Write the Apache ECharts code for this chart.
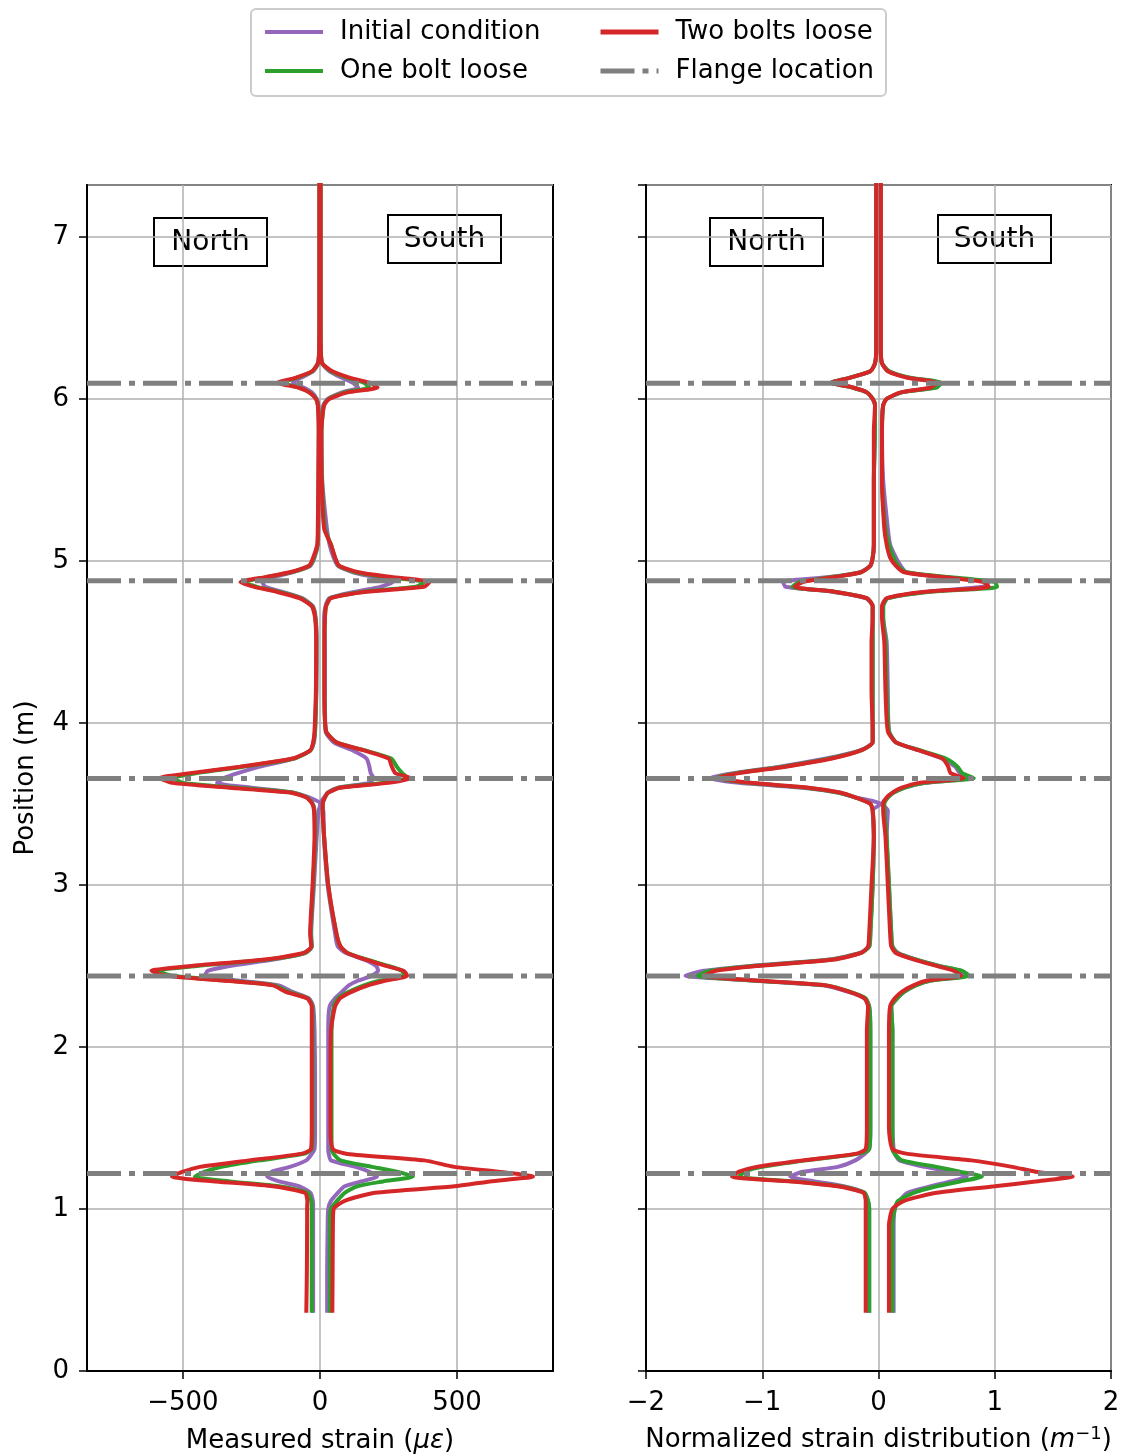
<!DOCTYPE html>
<html>
<head>
<meta charset="utf-8">
<script src="https://cdn.jsdelivr.net/npm/echarts@6/dist/echarts.min.js"></script>
<style>
  html, body { margin: 0; padding: 0; background: #fff; }
  #chart { width: 1126px; height: 1454px; }
</style>
</head>
<body>
<div id="chart"></div>
<script>
// position along the pile (m), shared by every profile
const positions = [
  0.36, 0.6, 0.9,
  1.0, 1.05, 1.1, 1.14, 1.17, 1.2, 1.23, 1.26, 1.3, 1.34, 1.37,
  1.5, 1.8, 2.1,
  2.25, 2.3, 2.34, 2.38, 2.41, 2.44, 2.47, 2.5, 2.54, 2.58, 2.62,
  2.7, 3.0, 3.3,
  3.46, 3.5, 3.54, 3.57, 3.6, 3.63, 3.66, 3.69, 3.73, 3.78, 3.83, 3.88, 3.95,
  4.2, 4.5,
  4.65, 4.72, 4.77, 4.81, 4.84, 4.87, 4.9, 4.93, 4.97, 5.02, 5.1,
  5.2, 5.5, 5.8,
  5.96, 6.0, 6.04, 6.07, 6.1, 6.13, 6.17, 6.22, 6.3,
  6.5, 7.0, 7.35
];

const flangePositions = [1.2192, 2.4384, 3.6576, 4.8768, 6.096];

// measured strain (microstrain)
const strainInitialNorth = [
  -25, -25, -25,
  -25, -26, -35, -75, -150, -193, -175, -110, -50, -30, -20,
  -18, -18, -20,
  -25, -40, -100, -150, -300, -420, -410, -330, -170, -55, -30,
  -32, -22, -12,
  -5, 3, -40, -100, -250, -376, -350, -300, -220, -95, -35, -22, -18,
  -13, -12,
  -16, -26, -65, -140, -200, -210, -170, -100, -35, -20, -8,
  -6, -5, -4,
  -6, -12, -30, -60, -99, -70, -25, -6, -3,
  -2, -2, -2
];
const strainInitialSouth = [
  26, 26, 28,
  30, 40, 65, 90, 150, 208, 180, 130, 40, 32, 30,
  30, 30, 30,
  35, 55, 80, 105, 140, 190, 212, 205, 160, 95, 65,
  55, 28, 14,
  12, 0, 15, 28, 65, 180, 195, 185, 180, 170, 120, 50, 20,
  18, 18,
  15, 20, 35, 130, 220, 266, 200, 120, 65, 50, 35,
  25, 8, 5,
  12, 28, 80, 139, 120, 80, 35, 7, 3,
  2, 2, 2
];
const strainOneNorth = [
  -30, -30, -30,
  -30, -32, -45, -150, -330, -456, -420, -360, -220, -60, -30,
  -27, -27, -27,
  -28, -45, -115, -165, -340, -540, -590, -450, -190, -55, -30,
  -34, -25, -18,
  -20, -26, -48, -100, -300, -500, -536, -450, -280, -95, -35, -24, -18,
  -14, -13,
  -17, -28, -70, -150, -230, -280, -195, -105, -38, -22, -9,
  -7, -5, -4,
  -7, -14, -38, -75, -140, -85, -28, -7, -3,
  -2, -2, -2
];
const strainOneSouth = [
  36, 36, 36,
  40, 62, 90, 135, 230, 339, 280, 190, 75, 50, 42,
  42, 42, 42,
  50, 65, 105, 160, 220, 305, 300, 250, 170, 100, 75,
  60, 30, 15,
  10, 10, 18, 30, 70, 230, 320, 300, 280, 260, 165, 60, 22,
  16, 16,
  18, 22, 38, 160, 350, 380, 240, 130, 68, 55, 40,
  18, 7, 5,
  14, 32, 90, 180, 160, 100, 40, 8, 3,
  2, 2, 2
];
const strainTwoNorth = [
  -50, -48, -47,
  -47, -46, -55, -172, -380, -540, -500, -438, -260, -70, -33,
  -30, -30, -30,
  -30, -47, -125, -172, -354, -560, -615, -470, -200, -60, -32,
  -36, -27, -20,
  -22, -28, -50, -110, -330, -540, -584, -474, -292, -100, -36, -25, -20,
  -15, -14,
  -18, -30, -75, -160, -240, -290, -200, -110, -40, -25, -10,
  -8, -6, -5,
  -8, -15, -40, -80, -155, -90, -30, -8, -3,
  -2, -2, -2
];
const strainTwoSouth = [
  45, 46, 47,
  50, 90, 200, 490, 620, 777, 650, 490, 380, 100, 47,
  38, 38, 40,
  55, 73, 115, 175, 240, 318, 305, 240, 165, 100, 75,
  60, 30, 15,
  10, 10, 18, 30, 73, 250, 330, 275, 262, 250, 160, 60, 22,
  16, 16,
  18, 22, 40, 170, 380, 400, 260, 140, 70, 55, 40,
  15, 6, 5,
  15, 35, 100, 210, 180, 110, 45, 8, 3,
  2, 2, 2
];

// normalized strain distribution (1/m)
const normInitialNorth = [
  -0.08, -0.08, -0.08,
  -0.08, -0.09, -0.12, -0.30, -0.55, -0.76, -0.65, -0.35, -0.20, -0.12, -0.08,
  -0.07, -0.07, -0.07,
  -0.08, -0.12, -0.26, -0.48, -1.10, -1.66, -1.50, -1.10, -0.42, -0.16, -0.08,
  -0.07, -0.05, -0.04,
  -0.05, 0.02, -0.20, -0.35, -0.65, -1.20, -1.46, -1.25, -0.85, -0.45, -0.16, -0.05, -0.05,
  -0.05, -0.05,
  -0.05, -0.05, -0.11, -0.40, -0.80, -0.82, -0.42, -0.16, -0.07, -0.05, -0.04,
  -0.04, -0.04, -0.03,
  -0.03, -0.05, -0.10, -0.22, -0.40, -0.25, -0.07, -0.03, -0.02,
  -0.02, -0.02, -0.02
];
const normInitialSouth = [
  0.13, 0.13, 0.13,
  0.14, 0.18, 0.25, 0.45, 0.62, 0.76, 0.62, 0.40, 0.18, 0.14, 0.13,
  0.12, 0.12, 0.12,
  0.11, 0.16, 0.22, 0.32, 0.45, 0.75, 0.70, 0.52, 0.32, 0.17, 0.12,
  0.11, 0.09, 0.07,
  0.08, 0.03, 0.08, 0.13, 0.22, 0.40, 0.78, 0.70, 0.66, 0.55, 0.35, 0.15, 0.09,
  0.08, 0.07,
  0.04, 0.04, 0.08, 0.42, 0.90, 0.95, 0.55, 0.24, 0.19, 0.15, 0.10,
  0.08, 0.04, 0.03,
  0.04, 0.07, 0.20, 0.48, 0.52, 0.26, 0.09, 0.03, 0.02,
  0.02, 0.02, 0.02
];
const normOneNorth = [
  -0.08, -0.08, -0.08,
  -0.08, -0.09, -0.12, -0.33, -0.72, -1.20, -1.15, -1.00, -0.62, -0.18, -0.08,
  -0.07, -0.07, -0.07,
  -0.08, -0.11, -0.24, -0.45, -1.08, -1.56, -1.45, -1.08, -0.40, -0.15, -0.08,
  -0.07, -0.05, -0.04,
  -0.05, -0.07, -0.20, -0.35, -0.62, -1.12, -1.40, -1.22, -0.82, -0.42, -0.15, -0.05, -0.05,
  -0.05, -0.05,
  -0.05, -0.05, -0.10, -0.38, -0.74, -0.68, -0.40, -0.15, -0.07, -0.05, -0.04,
  -0.04, -0.04, -0.03,
  -0.03, -0.05, -0.10, -0.23, -0.41, -0.25, -0.07, -0.03, -0.02,
  -0.02, -0.02, -0.02
];
const normOneSouth = [
  0.12, 0.12, 0.12,
  0.14, 0.17, 0.30, 0.50, 0.70, 0.89, 0.70, 0.50, 0.20, 0.14, 0.12,
  0.12, 0.12, 0.12,
  0.11, 0.16, 0.22, 0.32, 0.45, 0.78, 0.72, 0.52, 0.32, 0.16, 0.12,
  0.11, 0.09, 0.07,
  0.05, 0.05, 0.08, 0.13, 0.22, 0.40, 0.82, 0.72, 0.68, 0.58, 0.36, 0.15, 0.09,
  0.07, 0.06,
  0.04, 0.04, 0.08, 0.45, 1.02, 1.00, 0.60, 0.24, 0.17, 0.13, 0.09,
  0.06, 0.03, 0.03,
  0.04, 0.07, 0.20, 0.50, 0.54, 0.27, 0.09, 0.03, 0.02,
  0.02, 0.02, 0.02
];
const normTwoNorth = [
  -0.11, -0.11, -0.11,
  -0.11, -0.11, -0.13, -0.35, -0.75, -1.26, -1.20, -1.05, -0.65, -0.20, -0.11,
  -0.10, -0.10, -0.10,
  -0.09, -0.12, -0.25, -0.45, -1.05, -1.50, -1.40, -1.05, -0.38, -0.15, -0.09,
  -0.08, -0.06, -0.04,
  -0.05, -0.07, -0.20, -0.33, -0.60, -1.10, -1.39, -1.20, -0.80, -0.40, -0.15, -0.05, -0.05,
  -0.06, -0.06,
  -0.05, -0.05, -0.10, -0.38, -0.72, -0.65, -0.38, -0.15, -0.07, -0.05, -0.04,
  -0.04, -0.04, -0.04,
  -0.03, -0.05, -0.10, -0.22, -0.40, -0.25, -0.07, -0.03, -0.02,
  -0.02, -0.02, -0.02
];
const normTwoSouth = [
  0.09, 0.09, 0.09,
  0.12, 0.22, 0.50, 1.00, 1.35, 1.67, 1.35, 1.15, 0.80, 0.25, 0.12,
  0.09, 0.09, 0.09,
  0.10, 0.14, 0.20, 0.30, 0.42, 0.71, 0.65, 0.50, 0.30, 0.15, 0.11,
  0.10, 0.08, 0.06,
  0.04, 0.04, 0.07, 0.12, 0.20, 0.35, 0.73, 0.62, 0.60, 0.55, 0.35, 0.15, 0.08,
  0.06, 0.05,
  0.03, 0.03, 0.07, 0.40, 0.95, 0.90, 0.55, 0.22, 0.15, 0.10, 0.07,
  0.05, 0.03, 0.03,
  0.04, 0.07, 0.19, 0.45, 0.50, 0.25, 0.08, 0.03, 0.02,
  0.02, 0.02, 0.02
];

const strainTicks = [-500, 0, 500];
const strainRange = [-850, 850];
const normRange = [-2, 2];
const positionRange = [0, 7.32];

const colors = {
  'Initial condition': '#9467bd',
  'One bolt loose': '#2ca02c',
  'Two bolts loose': '#d62728',
  'Flange location': '#7f7f7f'
};
const FONT = 'DejaVu Sans';

const panels = [
  {
    range: strainRange,
    curves: [
      ['Initial condition', strainInitialNorth], ['Initial condition', strainInitialSouth],
      ['One bolt loose', strainOneNorth], ['One bolt loose', strainOneSouth],
      ['Two bolts loose', strainTwoNorth], ['Two bolts loose', strainTwoSouth]
    ]
  },
  {
    range: normRange,
    curves: [
      ['Initial condition', normInitialNorth], ['Initial condition', normInitialSouth],
      ['One bolt loose', normOneNorth], ['One bolt loose', normOneSouth],
      ['Two bolts loose', normTwoNorth], ['Two bolts loose', normTwoSouth]
    ]
  }
];

const series = [];
panels.forEach((panel, idx) => {
  panel.curves.forEach(([name, values]) => {
    series.push({
      type: 'line',
      name,
      xAxisIndex: idx,
      yAxisIndex: idx,
      data: positions.map((p, i) => [values[i], p]),
      symbol: 'none',
      smooth: 0.2,
      lineStyle: { color: colors[name], width: 4 },
      itemStyle: { color: colors[name] },
      z: 3
    });
  });
  flangePositions.forEach(f => {
    series.push({
      type: 'line',
      name: 'Flange location',
      xAxisIndex: idx,
      yAxisIndex: idx,
      data: [[panel.range[0], f], [panel.range[1], f]],
      symbol: 'none',
      lineStyle: { color: colors['Flange location'], width: 5, type: [34, 8, 6, 8] },
      itemStyle: { color: colors['Flange location'] },
      z: 4
    });
  });
});

const minus = v => String(v).replace('-', '\u2212');
const axisLineStyle = { show: true, onZero: false, lineStyle: { color: '#000', width: 2 } };
const tickStyle = { show: true, inside: false, length: 8, lineStyle: { color: '#000', width: 1.5 } };
const gridLine = { show: true, lineStyle: { color: '#b0b0b0', width: 1.5 } };
const labelStyle = { color: '#000', fontSize: 26, fontFamily: FONT, margin: 19 };
const legendText = { fontSize: 26, color: '#000', fontFamily: FONT, lineHeight: 26, padding: [0, 0, 0, 12] };

const chart = echarts.init(document.getElementById('chart'), null, { renderer: 'canvas' });

chart.setOption({
  animation: false,
  backgroundColor: '#fff',
  textStyle: { fontFamily: FONT },
  grid: [
    { left: 87, right: 573, top: 185, bottom: 83, show: true, borderColor: '#000', borderWidth: 2,
      containLabel: false, outerBoundsMode: 'none' },
    { left: 646, right: 15, top: 185, bottom: 83, show: true, borderColor: '#000', borderWidth: 2,
      containLabel: false, outerBoundsMode: 'none' }
  ],
  legend: [
    {
      orient: 'vertical', left: 258, top: 14, itemWidth: 58, itemHeight: 14, itemGap: 13,
      data: ['Initial condition', 'One bolt loose'],
      itemStyle: { opacity: 0 },
      lineStyle: { width: 4 },
      textStyle: legendText
    },
    {
      orient: 'vertical', left: 593, top: 14, itemWidth: 58, itemHeight: 14, itemGap: 13,
      data: ['Two bolts loose', 'Flange location'],
      itemStyle: { opacity: 0 },
      lineStyle: { width: 5 },
      textStyle: legendText
    }
  ],
  xAxis: [
    {
      type: 'value', gridIndex: 0, min: strainRange[0], max: strainRange[1],
      axisLine: axisLineStyle,
      axisTick: Object.assign({}, tickStyle, { customValues: strainTicks }),
      axisLabel: Object.assign({}, labelStyle, { customValues: strainTicks, formatter: minus }),
      splitLine: Object.assign({}, gridLine, { customValues: strainTicks }),
      name: 'Measured strain ({it|\u03bc\u03b5})',
      nameLocation: 'middle', nameGap: 57,
      nameTextStyle: { fontSize: 26, color: '#000', fontFamily: FONT,
        rich: { it: { fontSize: 26, color: '#000', fontStyle: 'italic', fontFamily: FONT } } }
    },
    {
      type: 'value', gridIndex: 1, min: normRange[0], max: normRange[1], interval: 1,
      axisLine: axisLineStyle,
      axisTick: tickStyle,
      axisLabel: Object.assign({}, labelStyle, { formatter: minus }),
      splitLine: gridLine,
      name: 'Normalized strain distribution ({it|m}{sup|\u22121}{p|)}',
      nameLocation: 'middle', nameGap: 54,
      nameTextStyle: { fontSize: 26, color: '#000', fontFamily: FONT,
        rich: {
          it: { fontSize: 26, color: '#000', fontStyle: 'italic', fontFamily: FONT },
          sup: { fontSize: 18, color: '#000', fontFamily: FONT, verticalAlign: 'top', padding: [0, 0, 12, 0] },
          p: { fontSize: 26, color: '#000', fontFamily: FONT }
        } }
    }
  ],
  yAxis: [
    {
      type: 'value', gridIndex: 0, min: positionRange[0], max: positionRange[1], interval: 1,
      axisLine: axisLineStyle,
      axisTick: tickStyle,
      axisLabel: Object.assign({}, labelStyle, { showMaxLabel: false, margin: 18 }),
      splitLine: gridLine,
      name: 'Position (m)', nameLocation: 'middle', nameGap: 48,
      nameTextStyle: { fontSize: 26, color: '#000', fontFamily: FONT }
    },
    {
      type: 'value', gridIndex: 1, min: positionRange[0], max: positionRange[1], interval: 1,
      axisLine: axisLineStyle,
      axisTick: tickStyle,
      axisLabel: { show: false },
      splitLine: gridLine
    }
  ],
  graphic: [
    {
      type: 'rect', left: 250, top: 8, z: -1,
      shape: { width: 635, height: 87, r: 5 },
      style: { fill: '#fff', stroke: '#cccccc', lineWidth: 2 }
    },
    ...[
      ['North', 153, 217], ['South', 387, 214], ['North', 709, 217], ['South', 937, 214]
    ].map(([label, x, y]) => ({
      type: 'group', left: x, top: y, z: 10,
      children: [
        { type: 'rect', shape: { x: 0, y: 0, width: 113, height: 48 }, style: { fill: '#fff', stroke: '#000', lineWidth: 2 } },
        { type: 'text', x: 56.5, y: 25, style: { text: label, font: '28px "DejaVu Sans"', fill: '#000', align: 'center', verticalAlign: 'middle' } }
      ]
    }))
  ],
  series
});
</script>
</body>
</html>
